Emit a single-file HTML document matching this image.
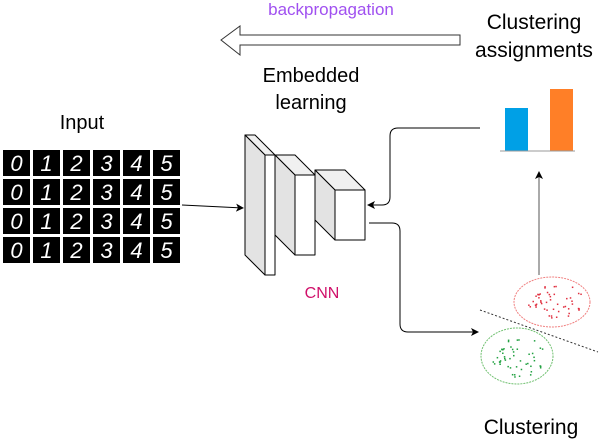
<!DOCTYPE html>
<html><head><style>
body{margin:0;background:#fff}
svg{display:block}
text{font-family:"Liberation Sans",sans-serif}
</style></head><body>
<svg width="605" height="446" viewBox="0 0 605 446">
<defs>
<marker id="a" markerWidth="8" markerHeight="8" refX="7" refY="4" orient="auto" markerUnits="userSpaceOnUse"><path d="M0,0 L8,4 L0,8 L2,4z" fill="#000"/></marker>
</defs>
<text x="331" y="15" font-size="17" fill="#a050f0" text-anchor="middle">backpropagation</text>
<path d="M221,40 L240,26 L240,35 L460,35 L460,45 L240,45 L240,55 Z" fill="#fff" stroke="#333" stroke-width="1"/>
<text x="534" y="29" font-size="21" text-anchor="middle">Clustering</text>
<text x="534" y="57" font-size="21" text-anchor="middle">assignments</text>
<text x="311" y="82" font-size="20" text-anchor="middle">Embedded</text>
<text x="311" y="109" font-size="20" text-anchor="middle">learning</text>
<text x="82" y="129" font-size="20" text-anchor="middle">Input</text>
<rect x="505" y="108" width="23" height="43" fill="#00a0e6"/>
<rect x="550" y="89" width="23" height="62" fill="#ff7f27"/>
<line x1="500" y1="151" x2="575" y2="151" stroke="#999" stroke-width="1"/>
<g id="grid"></g>
<g stroke="#000" stroke-width="1" stroke-linejoin="round">
<path d="M245,135 L255,135 L275,155 L265,155 Z" fill="#f0f0f0"/>
<path d="M245,135 L265,155 L265,275 L245,255 Z" fill="#e3e3e3"/>
<rect x="265" y="155" width="10" height="120" fill="#fff"/>
<path d="M275,155 L295,155 L315,175 L295,175 Z" fill="#f0f0f0"/>
<path d="M275,155 L295,175 L295,255 L275,235 Z" fill="#e3e3e3"/>
<rect x="295" y="175" width="20" height="80" fill="#fff"/>
<path d="M315,170 L345,170 L365,190 L335,190 Z" fill="#f0f0f0"/>
<path d="M315,170 L335,190 L335,240 L315,220 Z" fill="#e3e3e3"/>
<rect x="335" y="190" width="30" height="50" fill="#fff"/>
</g>
<text x="322" y="298" font-size="16" fill="#d0106a" text-anchor="middle">CNN</text>
<g fill="none" stroke="#000" stroke-width="1">
<line x1="182" y1="205" x2="243" y2="208" marker-end="url(#a)"/>
<path d="M480,128 L398,128 Q390,128 390,136 L390,197 Q390,205 382,205 L368,205" marker-end="url(#a)"/>
<path d="M369,223 L392,223 Q400,223 400,231 L400,324 Q400,332 408,332 L478,332" marker-end="url(#a)"/>
<line x1="539" y1="275" x2="539" y2="172" stroke="#555" marker-end="url(#a)"/>
<line x1="480" y1="310" x2="598" y2="352" stroke="#333" stroke-dasharray="2,2"/>
<ellipse cx="552" cy="302" rx="38" ry="25" stroke="#f08080" stroke-dasharray="2,1"/>
<ellipse cx="517" cy="356" rx="36" ry="28" stroke="#70c070" stroke-dasharray="2,1"/>
</g>
<g fill="#e03040" id="rd"></g>
<g fill="#20a040" id="gd"></g>
<text x="531" y="434" font-size="21" text-anchor="middle">Clustering</text>
</svg>
<script>
var g=document.getElementById('grid'),ns='http://www.w3.org/2000/svg';
for(var r=0;r<4;r++)for(var c=0;c<6;c++){
var x=3+c*30,y=150+r*29;
var e=document.createElementNS(ns,'rect');e.setAttribute('x',x);e.setAttribute('y',y);e.setAttribute('width',27);e.setAttribute('height',26);e.setAttribute('fill','#000');g.appendChild(e);
var t=document.createElementNS(ns,'text');t.setAttribute('x',x+13.5);t.setAttribute('y',y+21);t.setAttribute('font-size','22');t.setAttribute('fill','#fff');t.setAttribute('text-anchor','middle');t.setAttribute('font-style','italic');t.textContent=c;g.appendChild(t);}
function dots(id,cx,cy,rx,ry,n){var d=document.getElementById(id),s=7;for(var i=0;i<n;i++){s=(s*9301+49297)%233280;var a=s/233280*6.283;s=(s*9301+49297)%233280;var rr=Math.sqrt(s/233280)*0.8;var e=document.createElementNS(ns,'rect');e.setAttribute('x',cx+Math.cos(a)*rx*rr);e.setAttribute('y',cy+Math.sin(a)*ry*rr);e.setAttribute('width',1.5);e.setAttribute('height',1.5);d.appendChild(e);}}
dots('rd',554,300,36,22,50);dots('gd',517,356,34,26,50);
</script>
</body></html>
